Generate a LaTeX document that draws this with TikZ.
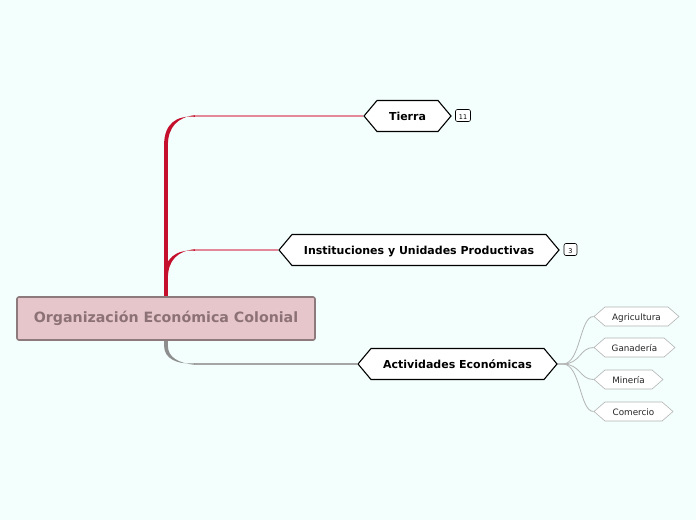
\documentclass[tikz,border=0pt]{standalone}
\usepackage{fontspec}
\setmainfont{DejaVu Sans}
\usetikzlibrary{shapes.symbols,backgrounds}
\definecolor{bg}{HTML}{F2FFFC}
\definecolor{rootfill}{HTML}{E6C6CA}
\definecolor{rootdraw}{HTML}{8C7A7D}
\definecolor{roottext}{HTML}{8C7276}
\definecolor{redtrunk}{HTML}{C4102C}
\definecolor{redthin}{HTML}{E3899A}
\definecolor{graytrunk}{HTML}{8E8E8E}
\definecolor{graythin}{HTML}{A5A5A5}
\definecolor{subline}{HTML}{B4B4B4}
\tikzset{
  ctext/.style={text height=1.0em, text depth=0.2em},
  rootbox/.style={draw=rootdraw, fill=rootfill, line width=1.6pt, rounded corners=2pt,
    minimum width=298pt, minimum height=43pt, inner sep=0pt,
    font=\bfseries\fontsize{14.2}{16}\selectfont, text=roottext, ctext},
  mainhex/.style={shape=signal, signal to=west and east, signal pointer angle=100,
    draw=black, fill=white, line width=1.1pt, minimum height=31pt, inner ysep=0pt,
    font=\bfseries\fontsize{11}{13}\selectfont, ctext},
  subhex/.style={shape=signal, signal to=west and east, signal pointer angle=82,
    draw=subline, fill=white, line width=0.6pt, minimum height=19pt, inner ysep=0pt,
    font=\fontsize{8.8}{10}\selectfont, text=black!85, ctext},
  badge/.style={draw=black, fill=white, rounded corners=2pt, line width=0.6pt,
    minimum width=15pt, minimum height=12pt, inner sep=0pt,
    font=\fontsize{6.5}{7}\selectfont, text height=0.73em, text depth=0pt},
  trunkR/.style={draw=redtrunk, line width=3.8pt},
  taperR/.style={fill=redtrunk},
  thinR/.style={draw=redthin, line width=1.2pt},
  trunkG/.style={draw=graytrunk, line width=3.8pt},
  taperG/.style={fill=graytrunk},
  thinG/.style={draw=graythin, line width=1.2pt},
  subconn/.style={draw=subline, line width=0.8pt},
}
\begin{document}
\begin{tikzpicture}[x=1pt,y=-1pt]
\useasboundingbox (0,0) rectangle (696,520);

\node[rootbox] (root) at (166,318.5) {Organización Económica Colonial};

\node[mainhex, minimum width=87pt] (tierra) at (407.5,116) {Tierra};
\node[mainhex, minimum width=280pt] (inst) at (419,250) {Instituciones y Unidades Productivas};
\node[mainhex, minimum width=199pt] (acts) at (457.5,364) {Actividades Económicas};

\node[badge] (b1) at (463,115.5) {11};
\node[badge, minimum width=13pt] (b2) at (570.5,249.5) {3};

\node[subhex, minimum width=85pt] (agri) at (636.5,316.5) {Agricultura};
\node[subhex, minimum width=81pt] (gana) at (634.5,347.5) {Ganadería};
\node[subhex, minimum width=69pt] (mine) at (628.5,379.5) {Minería};
\node[subhex, minimum width=79pt] (come) at (633.5,411.5) {Comercio};

\coordinate (vT) at (166,145);
\coordinate (vI) at (166,278);
\coordinate (vA) at (166,346);
\coordinate (cT) at (195,116);
\coordinate (cI) at (195,250);
\coordinate (cA) at (195,364);

\begin{scope}[on background layer]
\fill[bg] (0,0) rectangle (696,520);
% red trunk to Tierra
\draw[trunkR] (root.north) -- (vT);
\fill[taperR] ([xshift=-1.9pt]vT) .. controls (164.1,124) and (176,115.2) .. ([yshift=-0.8pt]cT)
  -- ([yshift=0.8pt]cT) .. controls (178,116.8) and (167.9,127) .. ([xshift=1.9pt]vT) -- cycle;
\draw[thinR] (cT) -- (tierra.west);
% red trunk to Instituciones
\draw[trunkR] (root.north) -- (vI);
\fill[taperR] ([xshift=-1.9pt]vI) .. controls (164.1,258) and (176,249.2) .. ([yshift=-0.8pt]cI)
  -- ([yshift=0.8pt]cI) .. controls (178,250.8) and (167.9,260) .. ([xshift=1.9pt]vI) -- cycle;
\draw[thinR] (cI) -- (inst.west);
% gray trunk to Actividades
\draw[trunkG] (root.south) -- (vA);
\fill[taperG] ([xshift=-1.9pt]vA) .. controls (164.1,358) and (176,364.8) .. ([yshift=0.8pt]cA)
  -- ([yshift=-0.8pt]cA) .. controls (178,363.2) and (167.9,357) .. ([xshift=1.9pt]vA) -- cycle;
\draw[thinG] (cA) -- (acts.west);
\foreach \s in {agri,gana,mine,come}{
  \draw[subconn] (acts.east) -- ++(5,0) .. controls +(18,0) and +(-14,0) .. (\s.west);
}
\end{scope}
\end{tikzpicture}
\end{document}
